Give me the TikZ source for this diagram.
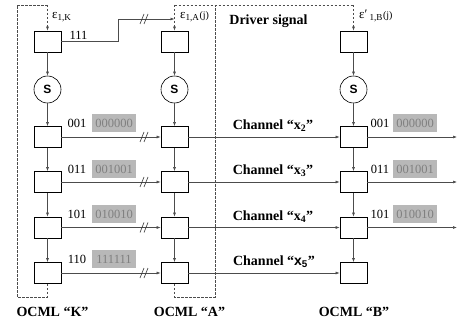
\documentclass[tikz,border=0pt]{standalone}
\usepackage{fontspec}
\setmainfont{Liberation Serif}
\setsansfont{Liberation Sans}
\usetikzlibrary{arrows.meta}

\tikzset{
  blk/.style={draw, line width=0.7pt, minimum width=27pt, minimum height=21pt, inner sep=0pt},
  sum/.style={draw, circle, line width=0.6pt, minimum size=27pt, inner sep=0pt, font=\sffamily\bfseries\fontsize{12}{12}\selectfont},
  lnk/.style={draw=black!70, line width=0.6pt, -{Latex[length=4pt,width=3pt]}},
  enc/.style={draw=black!70, line width=0.6pt, dash pattern=on 2.5pt off 1.5pt},
  etq/.style={font=\bfseries\fontsize{14}{14}\selectfont, inner sep=0pt},
  bits/.style={font=\fontsize{12.5}{12.5}\selectfont, inner sep=0pt},
  code/.style={fill=black!28, text=black!50, font=\fontsize{12.5}{12.5}\selectfont, minimum width=44pt, minimum height=18pt, inner sep=0pt},
  eps/.style={font=\fontsize{13}{13}\selectfont, inner sep=0pt, anchor=west},
  brk/.pic={\draw[black!80, line width=0.6pt] (-4,5) -- (0,-5) (0,5) -- (4,-5);}
}

\newcommand{\jsub}{{\fontsize{10}{10}\selectfont(j)}}

\begin{document}
\begin{tikzpicture}[x=1pt, y=-1pt]
  \useasboundingbox (0,0) rectangle (458,326);

  \foreach \c/\x in {k/47.5, a/174.5, b/353.5} {
    \node[blk] (\c0) at (\x,41.5) {};
    \node[sum] (\c s) at (\x,89.5) {S};
    \node[blk] (\c1) at (\x,137) {};
    \node[blk] (\c2) at (\x,182) {};
    \node[blk] (\c3) at (\x,227.5) {};
    \node[blk] (\c4) at (\x,273) {};
    \draw[lnk] (\c0) -- (\c s);
    \draw[lnk] (\c s) -- (\c1);
    \draw[lnk] (\c1) -- (\c2);
    \draw[lnk] (\c2) -- (\c3);
    \draw[lnk] (\c3) -- (\c4);
  }

  \coordinate (kt) at (47.5,5);
  \coordinate (at) at (174.5,5);
  \coordinate (bt) at (353.5,5);
  \coordinate (aj) at (174.5,19);
  \draw[enc] (k4.south) |- (17,297) |- (kt);
  \draw[enc, -{Latex[length=4pt,width=3pt]}] (kt) -- (k0);
  \draw[enc] (a4.south) |- (215,297) -- (215,5);
  \draw[enc] (at) -- (bt);
  \draw[enc, -{Latex[length=4pt,width=3pt]}] (at) -- (a0);
  \draw[enc, -{Latex[length=4pt,width=3pt]}] (bt) -- (b0);

  \draw[lnk] (k0) -- (118,41.5) |- (aj);
  \pic at (144,19) {brk};

  \draw[lnk] (k1) -- (a1);  \pic at (144,137) {brk};
  \draw[lnk] (k2) -- (a2);  \pic at (144,182) {brk};
  \draw[lnk] (k3) -- (a3);  \pic at (144,227.5) {brk};
  \draw[lnk] (k4) -- (a4);  \pic at (144,273) {brk};
  \draw[lnk] (a1) -- (b1);
  \draw[lnk] (a2) -- (b2);
  \draw[lnk] (a3) -- (b3);
  \draw[lnk] (a4) -- (b4);

  \coordinate (o1) at (457,137);
  \coordinate (o2) at (457,182);
  \coordinate (o3) at (457,227.5);
  \draw[lnk] (b1) -- (o1);
  \draw[lnk] (b2) -- (o2);
  \draw[lnk] (b3) -- (o3);

  \node[bits] (n0) at (78.5,35) {111};
  \node[bits] (nk1) at (77,123) {001};  \node[code] (ck1) at (114,123) {000000};
  \node[bits] (nk2) at (77,169) {011};  \node[code] (ck2) at (114,169) {001001};
  \node[bits] (nk3) at (77,214) {101};  \node[code] (ck3) at (114,214) {010010};
  \node[bits] (nk4) at (77,259) {110};  \node[code] (ck4) at (114,259) {111111};
  \node[bits] (nb1) at (380,123) {001}; \node[code] (cb1) at (415,123) {000000};
  \node[bits] (nb2) at (380,169) {011}; \node[code] (cb2) at (415,169) {001001};
  \node[bits] (nb3) at (380,214) {101}; \node[code] (cb3) at (415,214) {010010};

  \node[eps] (ek) at (52,17) {ε\textsubscript{1,K}};
  \node[eps] (ea) at (180,17) {ε\textsubscript{1,A}\jsub};
  \node[eps] (eb) at (359,16) {ε′\,\textsubscript{1,B}\jsub};

  \node[etq] (drv) at (268.5,21) {Driver signal};
  \node[etq] (ch2) at (273,126) {Channel “x\textsubscript{2}”};
  \node[etq] (ch3) at (273,171) {Channel “x\textsubscript{3}”};
  \node[etq] (ch4) at (273,216.5) {Channel “x\textsubscript{4}”};
  \node[etq] (ch5) at (274,262) {Channel “{\sffamily x\textsubscript{5}}”};

  \node[etq] (ok) at (52.5,312) {OCML “K”};
  \node[etq] (oa) at (189.5,312) {OCML “A”};
  \node[etq] (ob) at (354,312) {OCML “B”};
\end{tikzpicture}
\end{document}
